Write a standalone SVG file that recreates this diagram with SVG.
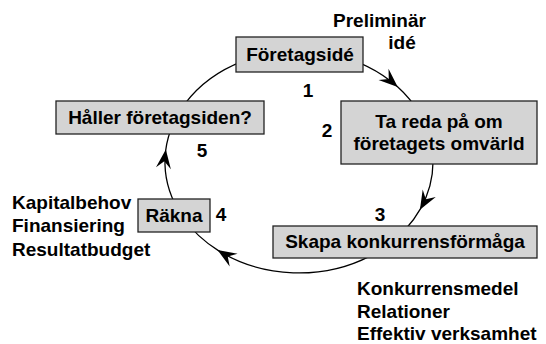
<svg xmlns="http://www.w3.org/2000/svg" width="546" height="344" viewBox="0 0 546 344">
<style>
text{font-family:"Liberation Sans",Arial,sans-serif;font-weight:bold;font-size:19px;fill:#000}
.box{fill:#d4d4d4;stroke:#222;stroke-width:1.3}
.c{text-anchor:middle}
.arc{fill:none;stroke:#000;stroke-width:1.3}
</style>
<defs>
<marker id="ah" markerUnits="userSpaceOnUse" orient="auto" viewBox="-19 -9 21 18" markerWidth="21" markerHeight="18" refX="0" refY="0">
<path d="M1,0 L-18,-7.5 L-11,0 L-18,7.5 Z" fill="#000"/>
</marker>
</defs>
<rect width="546" height="344" fill="#fff"/>
<g id="connectors">
<path class="arc" marker-mid="url(#ah)" d="M333.7,54.8 A134,111 0 0 1 397,86.3 A134,111 0 0 1 420.4,115"/>
<path class="arc" marker-mid="url(#ah)" d="M433,162 A134,111 0 0 1 420.4,208.9 A134,111 0 0 1 385.1,247"/>
<path class="arc" marker-mid="url(#ah)" d="M370,256.1 A134,111 0 0 1 218.4,250.6 A134,111 0 0 1 183,217.5"/>
<path class="arc" marker-mid="url(#ah)" d="M174.8,203.6 A134,111 0 0 1 165.7,150.4 A134,111 0 0 1 173.1,124"/>
<path class="arc" d="M185.4,103.2 A134,111 0 0 1 242.4,61.4"/>
</g>
<g id="node1">
<rect class="box" x="236" y="37" width="127" height="35"/>
<text class="c" x="300" y="61">Företagsidé</text>
</g>
<g id="node2">
<rect class="box" x="341" y="101" width="196" height="63"/>
<text class="c" x="439" y="128">Ta reda på om</text>
<text class="c" x="439" y="150">företagets omvärld</text>
</g>
<g id="node3">
<rect class="box" x="273" y="226" width="264" height="32"/>
<text class="c" x="405" y="248">Skapa konkurrensförmåga</text>
</g>
<g id="node4">
<rect class="box" x="138" y="199" width="72" height="33"/>
<text class="c" x="174" y="222">Räkna</text>
</g>
<g id="node5">
<rect class="box" x="56" y="101" width="208" height="33"/>
<text class="c" x="160" y="124">Håller företagsiden?</text>
</g>
<g id="labels">
<text x="333" y="27">Preliminär</text>
<text class="c" x="402" y="49">idé</text>
<text class="c" x="308" y="97">1</text>
<text class="c" x="327" y="137">2</text>
<text class="c" x="380" y="221">3</text>
<text class="c" x="221" y="221">4</text>
<text class="c" x="202" y="157">5</text>
<text x="12" y="209">Kapitalbehov</text>
<text x="12" y="232">Finansiering</text>
<text x="12" y="256">Resultatbudget</text>
<text x="357" y="295">Konkurrensmedel</text>
<text x="357" y="318">Relationer</text>
<text x="357" y="340">Effektiv verksamhet</text>
</g>
</svg>
